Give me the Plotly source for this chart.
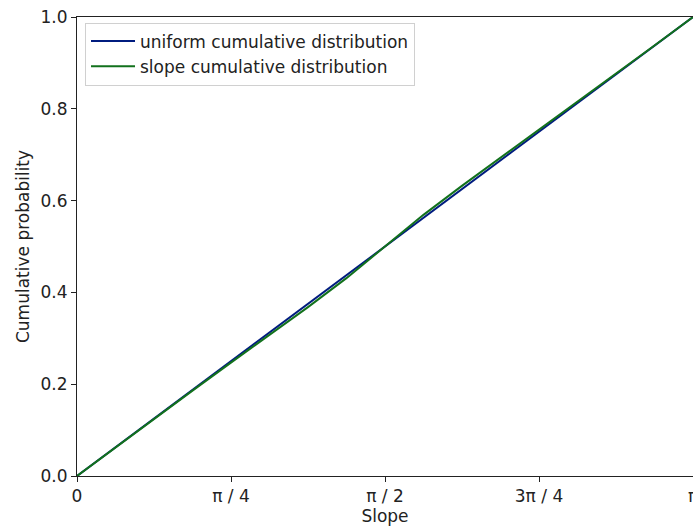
import math
import plotly.graph_objects as go

# Slope grid (radians) and empirical cumulative probability of the slope
slope_x = [0.0, 0.196, 0.393, 0.589, 0.785, 0.982, 1.178, 1.374, 1.571,
           1.767, 1.963, 2.160, 2.356, 2.553, 2.749, 2.945, 3.142]
slope_cdf = [0.0, 0.0625, 0.124, 0.186, 0.247, 0.307, 0.368, 0.431, 0.5,
             0.569, 0.632, 0.693, 0.754, 0.815, 0.877, 0.938, 1.0]

# Uniform reference distribution on [0, pi]
uniform_x = [0.0, math.pi]
uniform_cdf = [0.0, 1.0]

tick_vals = [0, math.pi / 4, math.pi / 2, 3 * math.pi / 4, math.pi]
tick_text = ["0", "π / 4", "π / 2", "3π / 4", "π"]
y_ticks = [0.0, 0.2, 0.4, 0.6, 0.8, 1.0]

FS = 17
fig = go.Figure()
fig.add_trace(go.Scatter(x=uniform_x, y=uniform_cdf, mode="lines",
                         name="uniform cumulative distribution",
                         line=dict(color="#001c7f", width=2)))
fig.add_trace(go.Scatter(x=slope_x, y=slope_cdf, mode="lines",
                         name="slope cumulative distribution",
                         line=dict(color="#12711c", width=2)))

axis_common = dict(showline=True, linecolor="#222", linewidth=1,
                   ticks="outside", ticklen=5, tickcolor="#222",
                   showgrid=False, zeroline=False, mirror=True,
                   automargin=False, ticklabeloverflow="allow",
                   tickfont=dict(family="DejaVu Sans", size=FS, color="#222"))

fig.update_layout(
    width=693, height=527,
    margin=dict(l=77, r=0, t=17, b=51),
    paper_bgcolor="white", plot_bgcolor="white",
    font=dict(family="DejaVu Sans", size=FS, color="#222"),
    xaxis=dict(range=[0, math.pi], tickvals=tick_vals, ticktext=tick_text,
               title=dict(text="Slope", standoff=2,
                          font=dict(family="DejaVu Sans", size=FS)),
               **axis_common),
    yaxis=dict(range=[0, 1], tickvals=y_ticks,
               ticktext=[f"{v:.1f}" for v in y_ticks],
               title=dict(text="Cumulative probability", standoff=6,
                          font=dict(family="DejaVu Sans", size=FS)),
               **axis_common),
    legend=dict(x=0.013, y=0.988, xanchor="left", yanchor="top",
                itemwidth=44,
                bgcolor="rgba(255,255,255,0.8)", bordercolor="#d0d0d0",
                borderwidth=1, font=dict(family="DejaVu Sans", size=FS,
                                         color="#222")),
)

fig.write_html("out.html")
